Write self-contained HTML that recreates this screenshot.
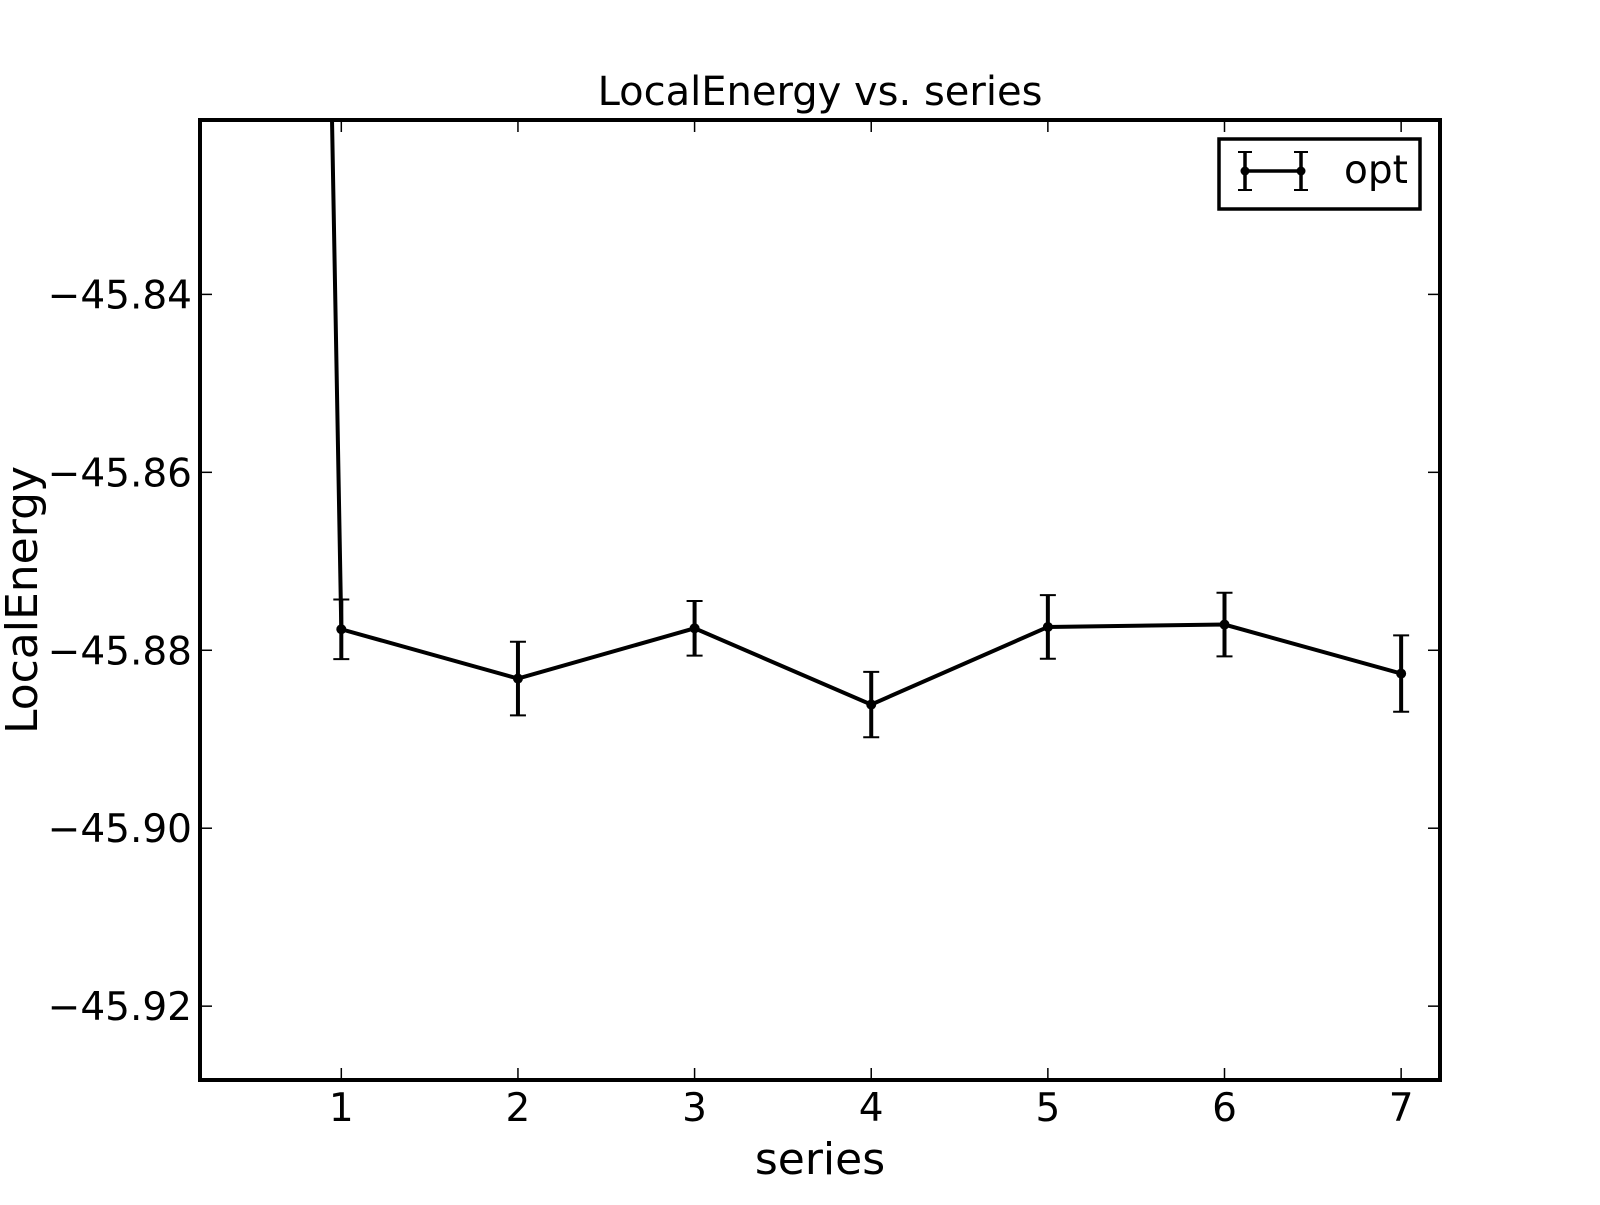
<!DOCTYPE html>
<html><head><meta charset="utf-8"><style>
html,body{margin:0;padding:0;background:#fff;}
svg text{font-family:"DejaVu Sans","Liberation Sans",sans-serif;fill:#000;}
</style></head><body>
<svg id="chart" width="1600" height="1200" viewBox="0 0 1600 1200" xmlns="http://www.w3.org/2000/svg">
<text x="820" y="105" font-size="40" text-anchor="middle">LocalEnergy vs. series</text>
<defs><clipPath id="plotclip"><rect x="200" y="120" width="1240" height="960"/></clipPath></defs>
<g id="ticks"></g>
<g id="series" clip-path="url(#plotclip)"></g>
<rect x="200" y="120" width="1240" height="960" fill="none" stroke="#000" stroke-width="4"/>
<text x="820" y="1174" font-size="44" text-anchor="middle">series</text>
<text x="0" y="0" font-size="44" text-anchor="middle" transform="translate(37,600) rotate(-90)">LocalEnergy</text>
<g>
<rect x="1219" y="139" width="201" height="70" fill="#fff" stroke="#000" stroke-width="3.5"/>
<g stroke="#000" stroke-width="3.5">
<line x1="1245" y1="171" x2="1301" y2="171"/>
<line x1="1245" y1="152" x2="1245" y2="190"/>
<line x1="1301" y1="152" x2="1301" y2="190"/>
<line x1="1238" y1="152" x2="1252" y2="152" stroke-width="2"/>
<line x1="1238" y1="190" x2="1252" y2="190" stroke-width="2"/>
<line x1="1294" y1="152" x2="1308" y2="152" stroke-width="2"/>
<line x1="1294" y1="190" x2="1308" y2="190" stroke-width="2"/>
<circle cx="1245" cy="171" r="4.5" fill="#000" stroke="none"/>
<circle cx="1301" cy="171" r="4.5" fill="#000" stroke="none"/>
</g>
<text x="1344" y="183" font-size="39">opt</text>
</g>
</svg>
<script>
const xValues = [0, 1, 2, 3, 4, 5, 6, 7];
const yValues = [-44.79, -45.87764, -45.88318, -45.87753, -45.8861, -45.87738, -45.87711, -45.88262];
const yErrors = [0.004, 0.00335, 0.00414, 0.00307, 0.00367, 0.00358, 0.00357, 0.00429];
const xTickLabels = ["1", "2", "3", "4", "5", "6", "7"];
const xTickValues = [1, 2, 3, 4, 5, 6, 7];
const yTickValues = [-45.84, -45.86, -45.88, -45.90, -45.92];
const yTickLabels = ["\u221245.84", "\u221245.86", "\u221245.88", "\u221245.90", "\u221245.92"];

const X0 = 200, X1 = 1440, Y0 = 120, Y1 = 1080;
const XMIN = 0.2, XMAX = 7.22, YMAX = -45.8204, YMIN = -45.9283;
function sx(v){ return X0 + (v - XMIN) / (XMAX - XMIN) * (X1 - X0); }
function sy(v){ return Y0 + (YMAX - v) / (YMAX - YMIN) * (Y1 - Y0); }
const NS = "http://www.w3.org/2000/svg";
function mk(tag, attrs, parent){
  const e = document.createElementNS(NS, tag);
  for (const k in attrs) e.setAttribute(k, attrs[k]);
  parent.appendChild(e);
  return e;
}
const ticks = document.getElementById('ticks');
xTickValues.forEach((v, i) => {
  const x = sx(v);
  const t1 = mk('line', {x1:x, y1:Y1, x2:x, y2:Y1-12, stroke:'#000', 'stroke-width':1.5}, ticks);
  
  
  const t2 = mk('line', {x1:x, y1:Y0, x2:x, y2:Y0+12, stroke:'#000', 'stroke-width':1.5}, ticks);
  
  
  const lb = mk('text', {x:x, y:1121, 'font-size':39, 'text-anchor':'middle'}, ticks);
  lb.textContent = xTickLabels[i];
  
  
});
yTickValues.forEach((v, i) => {
  const y = sy(v);
  const t1 = mk('line', {x1:X0, y1:y, x2:X0+12, y2:y, stroke:'#000', 'stroke-width':1.5}, ticks);
  
  
  const t2 = mk('line', {x1:X1, y1:y, x2:X1-12, y2:y, stroke:'#000', 'stroke-width':1.5}, ticks);
  
  
  const lb = mk('text', {x:192, y:y+14, 'font-size':39, 'text-anchor':'end'}, ticks);
  lb.textContent = yTickLabels[i];
  
  
});
const g = document.getElementById('series');
const pts = xValues.map((v, i) => sx(v).toFixed(2) + ',' + sy(yValues[i]).toFixed(2)).join(' ');
const line = mk('polyline', {points:pts, fill:'none', stroke:'#000', 'stroke-width':4, 'stroke-linejoin':'miter'}, g);


xValues.forEach((v, i) => {
  const x = sx(v), yt = sy(yValues[i] + yErrors[i]), yb = sy(yValues[i] - yErrors[i]);
  const eb = mk('g', {stroke:'#000'}, g);
  
  
  mk('line', {x1:x, y1:yt, x2:x, y2:yb, 'stroke-width':4}, eb);
  mk('line', {x1:x-8, y1:yt, x2:x+8, y2:yt, 'stroke-width':2}, eb);
  mk('line', {x1:x-8, y1:yb, x2:x+8, y2:yb, 'stroke-width':2}, eb);
  const c = mk('circle', {cx:x, cy:sy(yValues[i]), r:5, fill:'#000'}, g);
  
  
});
</script>
</body></html>
